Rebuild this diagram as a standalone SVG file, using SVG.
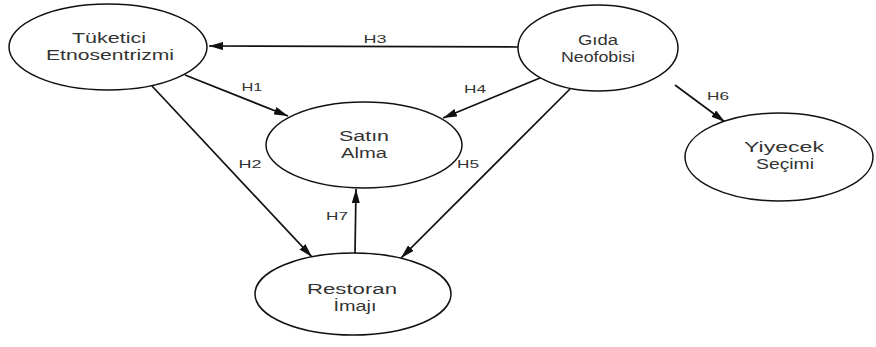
<svg xmlns="http://www.w3.org/2000/svg" width="876" height="347" viewBox="0 0 876 347">
<style>
.node ellipse{fill:#fff;stroke:#111;stroke-width:1.5}
.node text{font-family:"Liberation Sans",Arial,sans-serif;font-size:14px;fill:#333;text-anchor:middle}
.edge line{stroke:#111;stroke-width:1.7;marker-end:url(#ah)}
.lbl{font-family:"Liberation Sans",Arial,sans-serif;font-size:11px;fill:#333;text-anchor:middle}
</style>
<defs>
<marker id="ah" viewBox="0 0 14 8" refX="14" refY="4" markerWidth="14" markerHeight="8" markerUnits="userSpaceOnUse" orient="auto">
<path d="M0,0 L14,4 L0,8 Z" fill="#111"/>
</marker>
</defs>
<rect width="876" height="347" fill="#fff"/>
<g id="connectors" class="edge">
<line x1="518" y1="47" x2="209" y2="46"/>
<line x1="185" y1="75" x2="288" y2="116"/>
<line x1="540" y1="78" x2="443" y2="118"/>
<line x1="675" y1="85" x2="725" y2="122"/>
<line x1="152" y1="86" x2="312" y2="257"/>
<line x1="570" y1="89" x2="401" y2="258"/>
<line x1="355" y1="253" x2="356" y2="189"/>
</g>
<g id="labels">
<text class="lbl" x="375" y="43" textLength="23" lengthAdjust="spacingAndGlyphs">H3</text>
<text class="lbl" x="252" y="91" textLength="21" lengthAdjust="spacingAndGlyphs">H1</text>
<text class="lbl" x="475" y="93" textLength="22" lengthAdjust="spacingAndGlyphs">H4</text>
<text class="lbl" x="718" y="100" textLength="22" lengthAdjust="spacingAndGlyphs">H6</text>
<text class="lbl" x="250" y="168" textLength="23" lengthAdjust="spacingAndGlyphs">H2</text>
<text class="lbl" x="468" y="168" textLength="22" lengthAdjust="spacingAndGlyphs">H5</text>
<text class="lbl" x="337" y="220" textLength="22" lengthAdjust="spacingAndGlyphs">H7</text>
</g>
<g id="tuketici" class="node">
<ellipse cx="108" cy="47" rx="99" ry="43"/>
<text x="109" y="43" textLength="74" lengthAdjust="spacingAndGlyphs">Tüketici</text>
<text x="110" y="60" textLength="128" lengthAdjust="spacingAndGlyphs">Etnosentrizmi</text>
</g>
<g id="gida" class="node">
<ellipse cx="598" cy="48" rx="80" ry="43"/>
<text x="598" y="45" textLength="40" lengthAdjust="spacingAndGlyphs">Gıda</text>
<text x="598" y="62" textLength="74" lengthAdjust="spacingAndGlyphs">Neofobisi</text>
</g>
<g id="satin" class="node">
<ellipse cx="364" cy="145" rx="98" ry="43"/>
<text x="364" y="141" textLength="50" lengthAdjust="spacingAndGlyphs">Satın</text>
<text x="364" y="158" textLength="46" lengthAdjust="spacingAndGlyphs">Alma</text>
</g>
<g id="yiyecek" class="node">
<ellipse cx="779" cy="157" rx="94" ry="44"/>
<text x="784" y="152" textLength="80" lengthAdjust="spacingAndGlyphs">Yiyecek</text>
<text x="785" y="169" textLength="58" lengthAdjust="spacingAndGlyphs">Seçimi</text>
</g>
<g id="restoran" class="node">
<ellipse cx="353" cy="294" rx="98" ry="41"/>
<text x="352" y="294" textLength="90" lengthAdjust="spacingAndGlyphs">Restoran</text>
<text x="355" y="311" textLength="43" lengthAdjust="spacingAndGlyphs">İmajı</text>
</g>
</svg>
